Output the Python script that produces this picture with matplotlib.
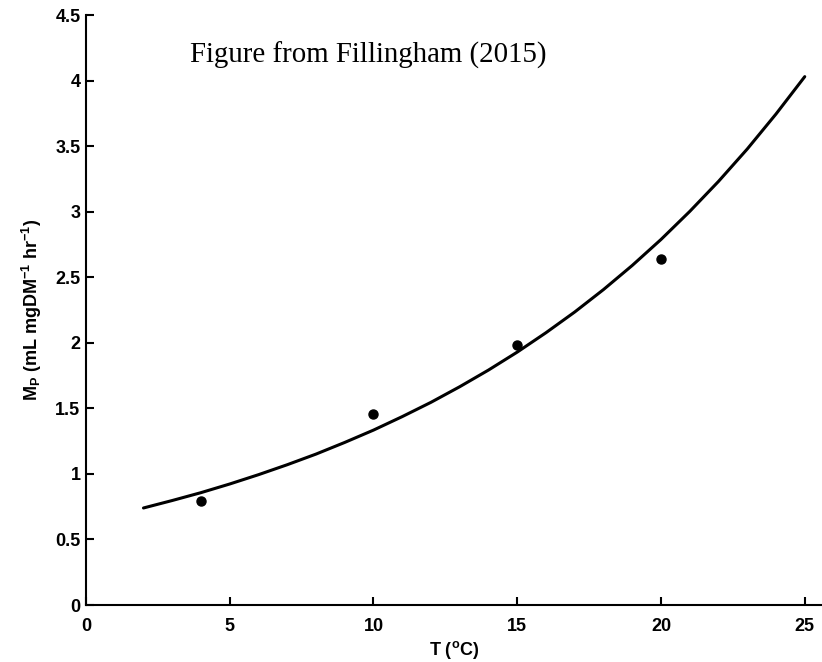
import numpy as np
import matplotlib
matplotlib.use('Agg')
import matplotlib.pyplot as plt

#------------- Data -----------------#
# measured respiration rates
temp_obs = [4, 10, 15, 20]
mp_obs = [0.79, 1.46, 1.98, 2.64]

# fitted exponential curve, read at 1 degree steps
temp_fit = [2, 3, 4, 5, 6, 7, 8, 9, 10, 11, 12, 13, 14, 15, 16, 17, 18, 19, 20, 21, 22, 23, 24, 25]
mp_fit = [0.740, 0.797, 0.857, 0.923, 0.994, 1.070, 1.151, 1.240, 1.334, 1.437, 1.546, 1.665,
          1.792, 1.929, 2.077, 2.235, 2.406, 2.590, 2.788, 3.002, 3.231, 3.478, 3.745, 4.030]

xticks = [0, 5, 10, 15, 20, 25]
yticks = [0, 0.5, 1, 1.5, 2, 2.5, 3, 3.5, 4, 4.5]
ytick_labels = ['0', '0.5', '1', '1.5', '2', '2.5', '3', '3.5', '4', '4.5']

plt.rcParams['font.family'] = ['Liberation Sans', 'DejaVu Sans']
plt.rcParams['font.weight'] = 'bold'
plt.rcParams['mathtext.fontset'] = 'custom'
plt.rcParams['mathtext.bf'] = 'Liberation Sans:bold'
plt.rcParams['mathtext.rm'] = 'Liberation Sans:bold'
plt.rcParams['mathtext.default'] = 'bf'

#------------- Plot -----------------#
fig = plt.figure(figsize=(8.22, 6.62), dpi=100)
ax = fig.add_axes([0.1046, 0.0861, 0.8954, 0.8912])

ax.plot(temp_fit, mp_fit, color='black', lw=2.2, solid_capstyle='round', solid_joinstyle='round')
ax.plot(temp_obs, mp_obs, 'o', color='black', markersize=6.5, linestyle='none')

ax.set_xlim(0, 25.6)
ax.set_ylim(0, 4.5)
ax.set_xticks(xticks)
ax.set_yticks(yticks)
ax.set_yticklabels(ytick_labels)

for side in ['top', 'right']:
    ax.spines[side].set_visible(False)
for side in ['left', 'bottom']:
    ax.spines[side].set_linewidth(1.5)

ax.tick_params(axis='both', direction='in', length=5.5, width=1.5, labelsize=13)
ax.tick_params(axis='x', pad=9)
ax.tick_params(axis='y', pad=4)

ax.set_xlabel(r'T ($^{o}$C)', fontsize=13, fontweight='bold', labelpad=3)
ax.set_ylabel(r'M$_{P}$ (mL mgDM$^{-1}$ hr$^{-1}$)', fontsize=13, fontweight='bold', labelpad=8)

fig.text(190 / 822, 1 - 63 / 662, 'Figure from Fillingham (2015)',
         family='Liberation Serif', fontweight='normal', fontsize=20.8, ha='left', va='baseline')

plt.savefig('out.png', dpi=100)
